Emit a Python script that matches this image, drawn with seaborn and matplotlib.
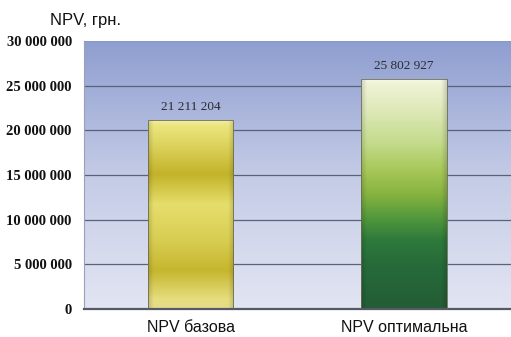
import numpy as np
import pandas as pd
import matplotlib
matplotlib.use("Agg")
import matplotlib.pyplot as plt
from matplotlib.colors import LinearSegmentedColormap
from matplotlib.ticker import FixedLocator, FuncFormatter
import seaborn as sns

# NPV comparison data
categories = ["NPV базова", "NPV оптимальна"]
npv_values = [21211204, 25802927]
y_tick_values = [0, 5000000, 10000000, 15000000, 20000000, 25000000, 30000000]
y_axis_title = "NPV, грн."

df = pd.DataFrame({"scenario": categories, "npv": npv_values})

sns.set_theme(style="white")
plt.rcParams["font.family"] = ["Liberation Sans", "DejaVu Sans"]

fig = plt.figure(figsize=(5.11, 3.37), dpi=100)
ax = fig.add_axes([0.164, 0.083, 0.836, 0.795])

sns.barplot(data=df, x="scenario", y="npv", ax=ax, width=0.4,
            color="#cccccc", edgecolor="#6b6b55", linewidth=0.6,
            saturation=1, zorder=3)

ax.set_ylim(0, 30000000)
ax.set_xlim(-0.5, 1.5)

# background: vertical blue gradient
bg = LinearSegmentedColormap.from_list("bg", ["#e2e5f2", "#c4cbe6", "#8e9ed0"])
ax.imshow(np.linspace(0, 1, 256).reshape(-1, 1), cmap=bg, origin="lower",
          extent=[0, 1, 0, 1], transform=ax.transAxes, aspect="auto", zorder=0)
ax.set_facecolor("none")

# gridlines
for t in y_tick_values[1:-1]:
    ax.axhline(t, color="#5a6178", lw=0.9, zorder=1)

# bar shading (bottom -> top)
yellow_v = LinearSegmentedColormap.from_list("yv", [
    (0.00, "#e4dc8a"), (0.05, "#e6de7e"), (0.20, "#c6b62e"), (0.36, "#d8cd52"),
    (0.55, "#e6de6c"), (0.71, "#c3b32a"), (0.86, "#dcd25c"), (0.97, "#ece67e"),
    (1.00, "#f4f0b0")])
green_v = LinearSegmentedColormap.from_list("gv", [
    (0.00, "#235c35"), (0.20, "#276c3a"), (0.30, "#2e7a3c"), (0.40, "#559a3c"),
    (0.50, "#88b440"), (0.60, "#a6c758"), (0.72, "#c4db8c"), (0.86, "#dde9b8"),
    (0.97, "#eef2d4"), (1.00, "#f6f8e6")])

patches = list(ax.patches)
for i, p in enumerate(patches):
    x0, y0 = p.get_x(), p.get_y()
    w, h = p.get_width(), p.get_height()
    p.set_facecolor("none")
    nx, ny = 64, 256
    xs = np.linspace(0, 1, nx)
    ys = np.linspace(0, 1, ny)
    cmap = yellow_v if i == 0 else green_v
    base = cmap(ys)[:, None, :3].repeat(nx, axis=1)
    edge = np.minimum(xs, 1 - xs)
    hmod = 1.0 - 0.14 * np.clip(1 - edge / 0.06, 0, 1)
    img = np.clip(base * hmod[None, :, None], 0, 1)
    im = ax.imshow(img, origin="lower", extent=[x0, x0 + w, y0, y0 + h],
                   aspect="auto", zorder=2, interpolation="bilinear")
    im.set_clip_path(p)
    ax.text(x0 + w / 2, y0 + h + 750000,
            f"{int(npv_values[i]):,}".replace(",", " "),
            ha="center", va="bottom", fontsize=9.5, color="#2a2a33",
            family="Liberation Serif", zorder=5)

ax.set_ylim(0, 30000000)
ax.set_xlim(-0.5, 1.5)

# axes styling
ax.spines["right"].set_visible(False)
ax.spines["left"].set_color("#9aa0b8")
ax.spines["left"].set_linewidth(0.8)
ax.spines["bottom"].set_color("#555a66")
ax.spines["bottom"].set_linewidth(1.6)
ax.spines["top"].set_color("#8a96c4")
ax.spines["top"].set_linewidth(0.6)

ax.yaxis.set_major_locator(FixedLocator(y_tick_values))
ax.yaxis.set_major_formatter(FuncFormatter(lambda v, _: f"{int(v):,}".replace(",", " ")))
ax.tick_params(axis="y", length=0, pad=8.6)
ax.tick_params(axis="x", length=0, pad=8)
for lbl in ax.get_yticklabels():
    lbl.set_family("Liberation Serif")
    lbl.set_fontweight("bold")
    lbl.set_fontsize(10.5)
    lbl.set_color("#111111")
for lbl in ax.get_xticklabels():
    lbl.set_fontsize(11.5)
    lbl.set_color("#111111")
ax.set_xlabel("")
ax.set_ylabel("")

fig.text(50 / 511, 1 - 20 / 337, y_axis_title, fontsize=12, color="#111111",
         ha="left", va="center")

fig.savefig("out.png", dpi=100, facecolor="white")
